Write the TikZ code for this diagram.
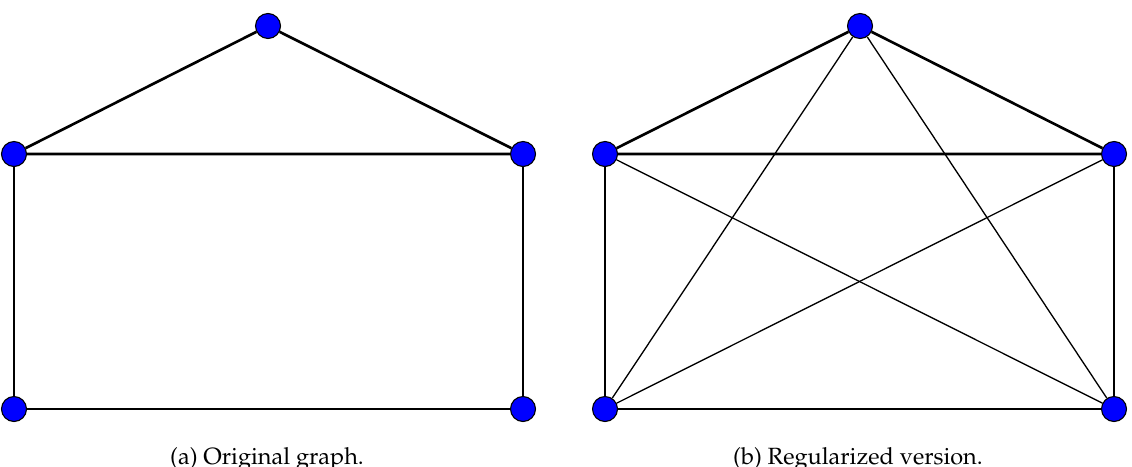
\documentclass[tikz,border=0pt]{standalone}
\usepackage[T1]{fontenc}
\usepackage{mathpazo}
\usepackage{tikz}
\usetikzlibrary{positioning}

\begin{document}
\begin{tikzpicture}[x=0.016cm, y=-0.016cm,
    vertex/.style={circle, draw=black, fill=blue, line width=0.5pt, minimum size=0.4cm, inner sep=0pt},
    oldedge/.style={line width=1.2pt},
    newedge/.style={line width=0.6pt},
    caption/.style={anchor=base, font=\fontsize{10.7}{13}\selectfont}]
  \useasboundingbox (0,0) rectangle (1132,466);

  % Original graph
  \node[vertex] (t1) at (268,26) {};
  \node[vertex] (l1) at (14,154) {};
  \node[vertex] (r1) at (523,154) {};
  \node[vertex] (bl1) at (14,409) {};
  \node[vertex] (br1) at (523,409) {};
  \draw[oldedge] (l1) -- (t1) -- (r1) -- (l1);
  \draw[oldedge] (l1) -- (bl1) -- (br1) -- (r1);
  \node[caption] (capa) at (267,464) {(a) Original graph.};

  % Regularized version
  \node[vertex] (t2) at (860,26) {};
  \node[vertex] (l2) at (605,154) {};
  \node[vertex] (r2) at (1114,154) {};
  \node[vertex] (bl2) at (605,409) {};
  \node[vertex] (br2) at (1114,409) {};
  \draw[oldedge] (l2) -- (t2) -- (r2) -- (l2);
  \draw[oldedge] (l2) -- (bl2) -- (br2) -- (r2);
  \draw[newedge] (t2) -- (bl2);
  \draw[newedge] (t2) -- (br2);
  \draw[newedge] (l2) -- (br2);
  \draw[newedge] (r2) -- (bl2);
  \node[caption] (capb) at (858,464) {(b) Regularized version.};
\end{tikzpicture}
\end{document}
